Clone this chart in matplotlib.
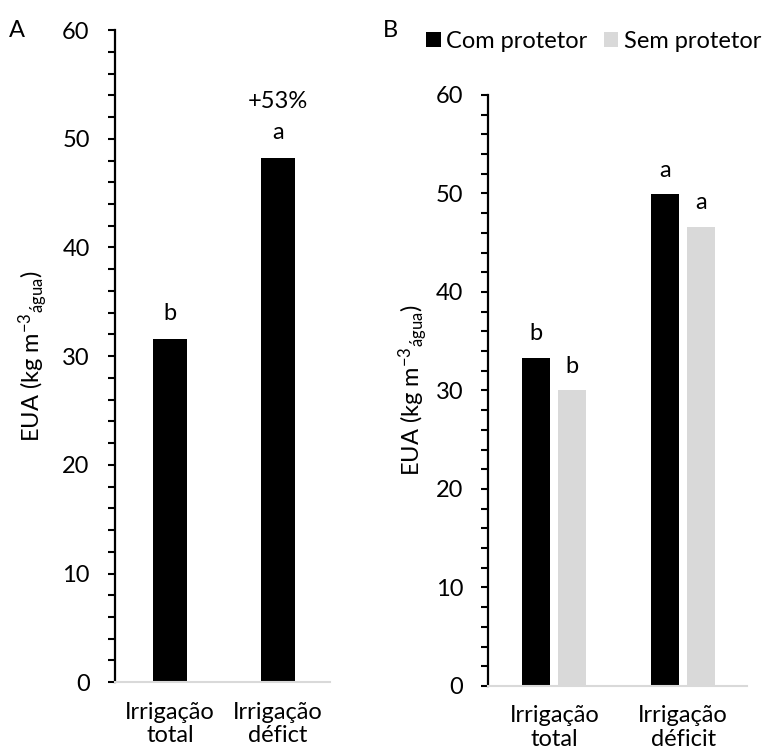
import matplotlib.pyplot as plt
import numpy as np

plt.rcParams['font.family'] = ['Lato', 'DejaVu Sans']
plt.rcParams['mathtext.fontset'] = 'custom'
plt.rcParams['mathtext.rm'] = 'Lato'
plt.rcParams['mathtext.it'] = 'Lato'

# panel A
cats_a = ["Irrigação\ntotal", "Irrigação\ndéfict"]
eua_a = [31.6, 48.2]
letters_a = ["b", "a"]

# panel B
cats_b = ["Irrigação\ntotal", "Irrigação\ndéficit"]
com_protetor = [33.3, 49.9]
sem_protetor = [30.0, 46.6]
letters_com = ["b", "a"]
letters_sem = ["b", "a"]

ylab = "EUA (kg m$^{-3}$$_{\\mathrm{água}}$)"
fs = 17

def style_axis(ax):
    ax.set_ylim(0, 60)
    ax.set_yticks(np.arange(0, 61, 10))
    ax.set_yticks(np.arange(0, 61, 2), minor=True)
    for s in ["top", "right"]:
        ax.spines[s].set_visible(False)
    ax.spines["left"].set_linewidth(1.6)
    ax.spines["bottom"].set_color("#d9d9d9")
    ax.spines["bottom"].set_linewidth(1.5)
    ax.tick_params(axis="y", which="both", direction="out", length=5, width=1.5, labelsize=fs, pad=13)
    ax.tick_params(axis="x", length=0, labelsize=fs, pad=14)
    ax.set_ylabel(ylab, fontsize=fs)

fig = plt.figure(figsize=(7.75, 7.53), dpi=100)

# A
axA = fig.add_axes([0.148, 0.094, 0.278, 0.866])
xa = np.arange(len(cats_a))
axA.bar(xa, eua_a, width=0.315, color="black")
axA.set_xlim(-0.51, 1.48)
axA.set_xticks(xa)
axA.set_xticklabels(cats_a, linespacing=1.15)
style_axis(axA)
axA.yaxis.set_label_coords(-0.30, 0.5)
for x, v, l in zip(xa, eua_a, letters_a):
    axA.text(x, v + 1.4, l, ha="center", va="bottom", fontsize=fs)
axA.text(xa[1], eua_a[1] + 4.3, "+53%", ha="center", va="bottom", fontsize=fs)
fig.text(0.012, 0.96, "A", fontsize=fs, va="center")

# B
axB = fig.add_axes([0.630, 0.089, 0.334, 0.785])
xb = np.arange(len(cats_b))
off = 0.14
w = 0.22
axB.bar(xb - off, com_protetor, width=w, color="black", label="Com protetor")
axB.bar(xb + off, sem_protetor, width=w, color="#d9d9d9", label="Sem protetor")
axB.set_xlim(-0.512, 0.496 + 1)
axB.set_xticks(xb)
axB.set_xticklabels(cats_b, linespacing=1.15)
style_axis(axB)
axB.yaxis.set_label_coords(-0.225, 0.5)
for x, v, l in zip(xb - off, com_protetor, letters_com):
    axB.text(x, v + 1.4, l, ha="center", va="bottom", fontsize=fs)
for x, v, l in zip(xb + off, sem_protetor, letters_sem):
    axB.text(x, v + 1.4, l, ha="center", va="bottom", fontsize=fs)
fig.text(0.494, 0.96, "B", fontsize=fs, va="center")
fig.legend(loc="center left", bbox_to_anchor=(0.538, 0.945), ncol=2, frameon=False,
           fontsize=fs, handlelength=0.6, handleheight=0.6, handletextpad=0.25,
           columnspacing=0.7, borderaxespad=0)

fig.savefig("out.png", dpi=100)
